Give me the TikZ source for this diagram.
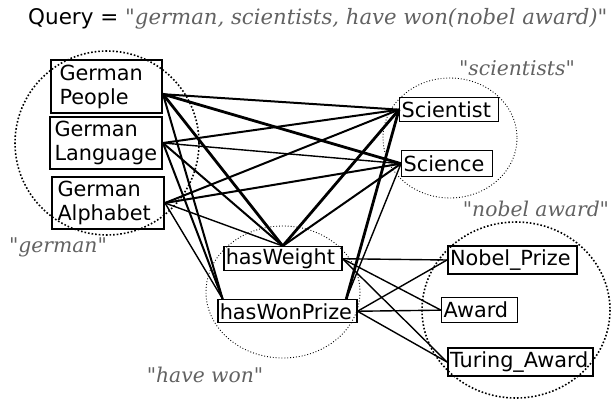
\documentclass[tikz,border=0pt]{standalone}
\usepackage{fontspec}
\setmainfont{DejaVu Sans}
\newfontfamily\qserif{DejaVu Serif}
\usetikzlibrary{calc}
\definecolor{lblgray}{HTML}{626262}
\tikzset{
  ent/.style={draw, line width=#1, inner sep=0pt, align=left, anchor=north west, font=\fontsize{20.8}{24}\selectfont},
  grp/.style={draw, dotted, line width=#1},
  lbl/.style={font=\qserif\itshape\fontsize{20.3}{24}\selectfont, text=lblgray, inner sep=0pt},
  wA/.style={line width=2.8pt},
  wB/.style={line width=2pt},
  wC/.style={line width=1.4pt},
}
\begin{document}
\begin{tikzpicture}[x=1pt,y=-1pt]
\useasboundingbox (0,0) rectangle (611,403);
% groups
\draw[grp=1.6pt] (107,143) ellipse [x radius=92, y radius=92];
\draw[grp=0.9pt] (450,138) ellipse [x radius=67, y radius=60];
\draw[grp=0.9pt] (283,292) ellipse [x radius=77, y radius=66];
\draw[grp=1.6pt] (516,310) ellipse [x radius=94, y radius=88];
% title
\node[inner sep=0pt, anchor=base west, font=\fontsize{21.5}{24}\selectfont] (q) at (28,25) {Query = \textcolor{lblgray}{\qserif\itshape\fontsize{21.2}{24}\selectfont "german, scientists, have won(nobel award)"}};
% labels
\node[lbl] (lsci) at (517,68) {"scientists"};
\node[lbl] (lnob) at (536,209) {"nobel award"};
\node[lbl] (lger) at (58,247) {"german"};
\node[lbl] (lhw) at (205,375) {"have won"};
% entity boxes
\node[ent=2pt, minimum width=111, minimum height=53, text width=94, inner xsep=8pt] (gp) at (50,59) {German\\People};
\node[ent=2pt, minimum width=112, minimum height=52, text width=103, inner xsep=4pt] (gl) at (49,116) {German\\Language};
\node[ent=2pt, minimum width=112, minimum height=52, text width=101, inner xsep=5pt] (ga) at (51,176) {German\\Alphabet};
\node[ent=1.3pt, minimum width=99, minimum height=24, text width=95, inner xsep=2pt] (sct) at (399,97) {Scientist};
\node[ent=1.3pt, minimum width=91, minimum height=26, text width=87, inner xsep=2pt] (scn) at (401,150) {Science};
\node[ent=1.5pt, minimum width=118, minimum height=24, text width=114, inner xsep=2pt] (hw) at (223,246) {hasWeight};
\node[ent=1.5pt, minimum width=139, minimum height=23, text width=135, inner xsep=2pt] (hwp) at (217,299) {hasWonPrize};
\node[ent=2pt, minimum width=129, minimum height=28, text width=125, inner xsep=2pt] (np) at (447,245) {Nobel\_Prize};
\node[ent=1.3pt, minimum width=76, minimum height=25, text width=72, inner xsep=2pt] (aw) at (441,297) {Award};
\node[ent=2pt, minimum width=145, minimum height=28, text width=141, inner xsep=2pt] (ta) at (447,347) {Turing\_Award};
% attachment points
\coordinate (gpR) at ($(gp.north east)!0.64!(gp.south east)$);
\coordinate (hwpL) at ($(hwp.north west)!0.04!(hwp.north east)$);
\coordinate (hwpR) at ($(hwp.north west)!0.92!(hwp.north east)$);
% edges: german -> others
\draw[wB] (gpR) -- (sct.west);
\draw[wA] (gpR) -- (scn.west);
\draw[wA] (gpR) -- (hw.north);
\draw[wB] (gpR) -- (hwpL);
\draw[wB] (gl.east) -- (sct.west);
\draw[wC] (gl.east) -- (scn.west);
\draw[wB] (gl.east) -- (hw.north);
\draw[wB] (gl.east) -- (hwpL);
\draw[wB] (ga.east) -- (sct.west);
\draw[wB] (ga.east) -- (scn.west);
\draw[wC] (ga.east) -- (hw.north);
\draw[wC] (ga.east) -- (hwpL);
% scientists -> have won
\draw[wA] (sct.west) -- (hw.north);
\draw[wB] (scn.west) -- (hw.north);
\draw[wA] (sct.west) -- (hwpR);
\draw[wC] (scn.west) -- (hwpR);
% have won -> nobel award
\draw[wC] (hw.east) -- (np.west);
\draw[wC] (hw.east) -- (aw.west);
\draw[wC] (hw.east) -- (ta.west);
\draw[wC] (hwp.east) -- (np.west);
\draw[wC] (hwp.east) -- (aw.west);
\draw[wC] (hwp.east) -- (ta.west);
\end{tikzpicture}
\end{document}
